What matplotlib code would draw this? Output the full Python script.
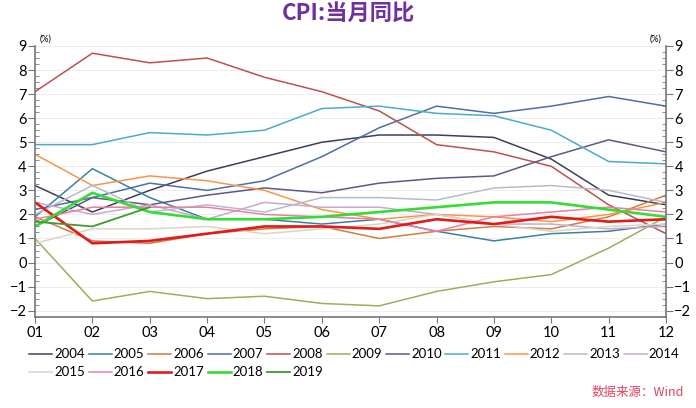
import numpy as np
import matplotlib.pyplot as plt
from matplotlib.ticker import MultipleLocator

months = ['01', '02', '03', '04', '05', '06', '07', '08', '09', '10', '11', '12']

cpi_2004 = [3.2, 2.1, 3.0, 3.8, 4.4, 5.0, 5.3, 5.3, 5.2, 4.3, 2.8, 2.4]
cpi_2005 = [1.9, 3.9, 2.7, 1.8, 1.8, 1.6, 1.8, 1.3, 0.9, 1.2, 1.3, 1.6]
cpi_2006 = [1.9, 0.9, 0.8, 1.2, 1.4, 1.5, 1.0, 1.3, 1.5, 1.4, 1.9, 2.8]
cpi_2007 = [2.2, 2.7, 3.3, 3.0, 3.4, 4.4, 5.6, 6.5, 6.2, 6.5, 6.9, 6.5]
cpi_2008 = [7.1, 8.7, 8.3, 8.5, 7.7, 7.1, 6.3, 4.9, 4.6, 4.0, 2.4, 1.2]
cpi_2009 = [1.0, -1.6, -1.2, -1.5, -1.4, -1.7, -1.8, -1.2, -0.8, -0.5, 0.6, 1.9]
cpi_2010 = [1.5, 2.7, 2.4, 2.8, 3.1, 2.9, 3.3, 3.5, 3.6, 4.4, 5.1, 4.6]
cpi_2011 = [4.9, 4.9, 5.4, 5.3, 5.5, 6.4, 6.5, 6.2, 6.1, 5.5, 4.2, 4.1]
cpi_2012 = [4.5, 3.2, 3.6, 3.4, 3.0, 2.2, 1.8, 2.0, 1.9, 1.7, 2.0, 2.5]
cpi_2013 = [2.0, 3.2, 2.1, 2.4, 2.1, 2.7, 2.7, 2.6, 3.1, 3.2, 3.0, 2.5]
cpi_2014 = [2.5, 2.0, 2.4, 1.8, 2.5, 2.3, 2.3, 2.0, 1.6, 1.6, 1.4, 1.5]
cpi_2015 = [0.8, 1.4, 1.4, 1.5, 1.2, 1.4, 1.6, 2.0, 1.6, 1.3, 1.5, 1.6]
cpi_2016 = [1.8, 2.3, 2.3, 2.3, 2.0, 1.9, 1.8, 1.3, 1.9, 2.1, 2.3, 2.1]
cpi_2017 = [2.5, 0.8, 0.9, 1.2, 1.5, 1.5, 1.4, 1.8, 1.6, 1.9, 1.7, 1.8]
cpi_2018 = [1.5, 2.9, 2.1, 1.8, 1.8, 1.9, 2.1, 2.3, 2.5, 2.5, 2.2, 1.9]
cpi_2019 = [1.7, 1.5, 2.3]

years = ['2004', '2005', '2006', '2007', '2008', '2009', '2010', '2011',
         '2012', '2013', '2014', '2015', '2016', '2017', '2018', '2019']
series = [cpi_2004, cpi_2005, cpi_2006, cpi_2007, cpi_2008, cpi_2009, cpi_2010,
          cpi_2011, cpi_2012, cpi_2013, cpi_2014, cpi_2015, cpi_2016, cpi_2017,
          cpi_2018, cpi_2019]
colors = ['#3E3E5C', '#3A82A2', '#D07C45', '#4E6EA8', '#C0504D', '#9DAE5C',
          '#5E5888', '#4BACC6', '#F7964A', '#B4BCCB', '#C9A8CF', '#D9D5C3',
          '#E97FA5', '#E31A1A', '#33DD33', '#3E9B2C']
widths = [1.1] * 13 + [1.9, 1.9, 1.3]

plt.rcParams['font.family'] = ['Lato', 'Noto Sans CJK SC', 'DejaVu Sans']

fig = plt.figure(figsize=(6.96, 4.08), dpi=100)
ax = fig.add_axes([0.0503, 0.2238, 0.9066, 0.6635])

x = np.arange(1, 13)
lines = []
for yr, vals, c, lw in zip(years, series, colors, widths):
    ln, = ax.plot(x[:len(vals)], vals, color=c, lw=lw, label=yr)
    lines.append(ln)

ax.set_xlim(1, 12)
ax.set_ylim(-2.25, 9)
ax.set_xticks(x)
ax.set_xticklabels(months)
ax.yaxis.set_major_locator(MultipleLocator(1))
ax.yaxis.set_minor_locator(MultipleLocator(0.25))
ax.grid(axis='y', color='#EDEDED', lw=0.7)
ax.set_axisbelow(True)

for s in ['top', 'right']:
    ax.spines[s].set_visible(False)
ax.spines['left'].set_color('#777777')
ax.spines['bottom'].set_color('#777777')
ax.spines['left'].set_linewidth(1.2)
ax.spines['bottom'].set_linewidth(1.2)
ax.tick_params(axis='y', which='major', direction='out', length=5, color='#777777',
               labelsize=10.5, pad=1)
ax.tick_params(axis='y', which='minor', direction='in', length=3, color='#777777')
ax.tick_params(axis='x', direction='out', length=4, color='#777777', labelsize=10.5, pad=3)

ax2 = ax.twinx()
ax2.set_ylim(-2.25, 9)
ax2.yaxis.set_major_locator(MultipleLocator(1))
ax2.yaxis.set_minor_locator(MultipleLocator(0.25))
for s in ['top', 'left', 'bottom']:
    ax2.spines[s].set_visible(False)
ax2.spines['right'].set_color('#777777')
ax2.spines['right'].set_linewidth(1.2)
ax2.tick_params(axis='y', which='major', direction='out', length=5, color='#777777',
                labelsize=10.5, pad=1)
ax2.tick_params(axis='y', which='minor', direction='in', length=3, color='#777777')

fig.text(0.057, 0.893, '(%)', fontsize=6.5, va='bottom', ha='left')
fig.text(0.951, 0.893, '(%)', fontsize=6.5, va='bottom', ha='right')

fig.text(0.5, 0.968, 'CPI:当月同比', fontsize=16, fontweight='heavy', color='#7030A0',
         ha='center', va='center', family=['Noto Sans CJK SC'])

# legend reads across rows: reorder so column-major fill gives row order
ncol = 11
order = []
for c in range(ncol):
    for r in range(2):
        i = c + r * ncol
        if i < len(lines):
            order.append(i)
fig.legend([lines[i] for i in order], [years[i] for i in order],
           loc='upper left', bbox_to_anchor=(0.042, 0.146), ncol=ncol, frameon=False,
           fontsize=9.5, handlelength=1.75, handletextpad=0.15, columnspacing=0.28,
           labelspacing=0.45, borderaxespad=0, borderpad=0)

fig.text(0.982, 0.037, '数据来源：Wind', fontsize=9, color='#E0405E', style='italic',
         ha='right', va='center', family=['Noto Sans CJK SC', 'DejaVu Sans'])

fig.savefig('out.png', dpi=100, facecolor='white')
